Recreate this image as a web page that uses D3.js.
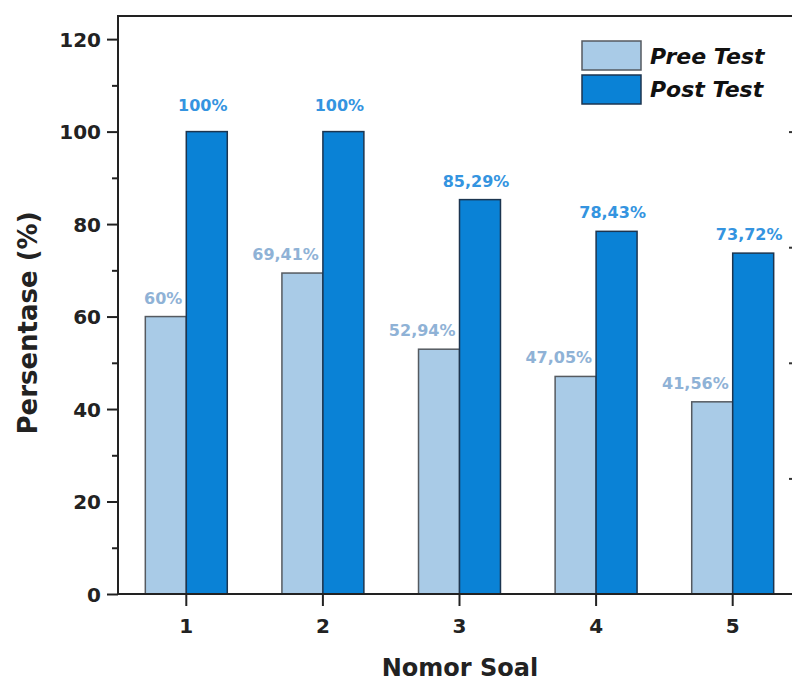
<!DOCTYPE html>
<html>
<head>
<meta charset="utf-8">
<script src="https://cdn.jsdelivr.net/npm/d3@7"></script>
<style>
  html, body { margin: 0; padding: 0; background: #fff; overflow: hidden; }
  svg { display: block; }
  text { font-family: "DejaVu Sans", sans-serif; font-weight: bold; }
</style>
</head>
<body>
<script>
const categories = ["1", "2", "3", "4", "5"];
const seriesNames = ["Pree Test", "Post Test"];
const preeValues = [60, 69.41, 52.94, 47.05, 41.56];
const postValues = [100, 100, 85.29, 78.43, 73.72];
const preeLabels = ["60%", "69,41%", "52,94%", "47,05%", "41,56%"];
const postLabels = ["100%", "100%", "85,29%", "78,43%", "73,72%"];
const yTicks = [0, 20, 40, 60, 80, 100, 120];

(function () {
const W = 792, H = 684;
const mLeft = 118, mRight = 801, mTop = 16, mBottom = 594;

const svg = d3.select("body").append("svg").attr("width", W).attr("height", H);

const x = d3.scaleBand().domain(categories).range([mLeft, mRight]).paddingInner(0.4).paddingOuter(0.2);
const xs = d3.scaleBand().domain(seriesNames).range([0, x.bandwidth()]).padding(0);
const y = d3.scaleLinear().domain([0, 125]).range([mBottom, mTop]);

const fills = { "Pree Test": "#a9cbe7", "Post Test": "#0a82d6" };
const strokes = { "Pree Test": "#555a60", "Post Test": "#1c3550" };

const rows = categories.map((c, i) => ({ c, pree: preeValues[i], post: postValues[i], pl: preeLabels[i], ql: postLabels[i] }));
const g = svg.append("g");
rows.forEach(r => {
  [["Pree Test", r.pree], ["Post Test", r.post]].forEach(([s, v]) => {
    g.append("rect")
      .attr("x", x(r.c) + xs(s))
      .attr("y", y(v))
      .attr("width", xs.bandwidth())
      .attr("height", y(0) - y(v))
      .attr("fill", fills[s])
      .attr("stroke", strokes[s])
      .attr("stroke-width", 1.5);
  });
  g.append("text")
    .attr("x", x(r.c) + x.bandwidth() / 2 - 4)
    .attr("y", y(r.pree) - 13)
    .attr("text-anchor", "end")
    .attr("font-size", 16)
    .attr("fill", "#8fb2d6")
    .text(r.pl);
  g.append("text")
    .attr("x", x(r.c) + xs("Post Test") + xs.bandwidth() / 2 - 4)
    .attr("y", y(r.post) - (r.post >= 100 ? 21 : 13))
    .attr("text-anchor", "middle")
    .attr("font-size", 16)
    .attr("fill", "#3494e0")
    .text(r.ql);
});

const yAxis = d3.axisLeft(y).tickValues(yTicks).tickSize(11).tickPadding(6).tickFormat(d3.format("d"));
const gy = svg.append("g").attr("transform", `translate(${mLeft},0)`).call(yAxis);
gy.select(".domain").remove();
gy.selectAll("line").attr("stroke", "#222").attr("stroke-width", 2);
gy.selectAll("text").attr("font-size", 20).attr("fill", "#222").attr("dy", "0.36em");
const gym = svg.append("g").attr("transform", `translate(${mLeft},0)`)
  .call(d3.axisLeft(y).tickValues(d3.range(10, 120, 20)).tickSize(6).tickFormat(""));
gym.select(".domain").remove();
gym.selectAll("line").attr("stroke", "#222").attr("stroke-width", 2);

const xAxis = d3.axisBottom(x).tickSize(12).tickPadding(13);
const gx = svg.append("g").attr("transform", `translate(0,${mBottom})`).call(xAxis);
gx.select(".domain").remove();
gx.selectAll("line").attr("stroke", "#222").attr("stroke-width", 2);
gx.selectAll("text").attr("font-size", 20).attr("fill", "#222");

const gr = svg.append("g").attr("transform", `translate(${mRight},0)`)
  .call(d3.axisLeft(y).tickValues([25, 50, 75, 100]).tickSize(12).tickFormat(""));
gr.select(".domain").remove();
gr.selectAll("line").attr("stroke", "#333").attr("stroke-width", 2);

svg.append("rect").attr("x", mLeft).attr("y", mTop).attr("width", mRight - mLeft).attr("height", mBottom - mTop)
  .attr("fill", "none").attr("stroke", "#222").attr("stroke-width", 2);

svg.append("text")
  .attr("transform", `translate(37,${(mTop + mBottom) / 2 + 18}) rotate(-90)`)
  .attr("text-anchor", "middle")
  .attr("font-size", 26)
  .attr("fill", "#222")
  .text("Persentase (%)");
svg.append("text")
  .attr("x", 460).attr("y", 676)
  .attr("text-anchor", "middle")
  .attr("font-size", 24)
  .attr("fill", "#222")
  .text("Nomor Soal");

const lg = svg.append("g");
seriesNames.forEach((s, i) => {
  lg.append("rect").attr("x", 582).attr("y", 41 + i * 34).attr("width", 59).attr("height", 29)
    .attr("fill", fills[s]).attr("stroke", strokes[s]).attr("stroke-width", 1.5);
  lg.append("text").attr("x", 650).attr("y", 64 + i * 33)
    .attr("font-size", 22).attr("font-style", "italic").attr("fill", "#111").text(s);
});
})();
</script>
</body>
</html>
